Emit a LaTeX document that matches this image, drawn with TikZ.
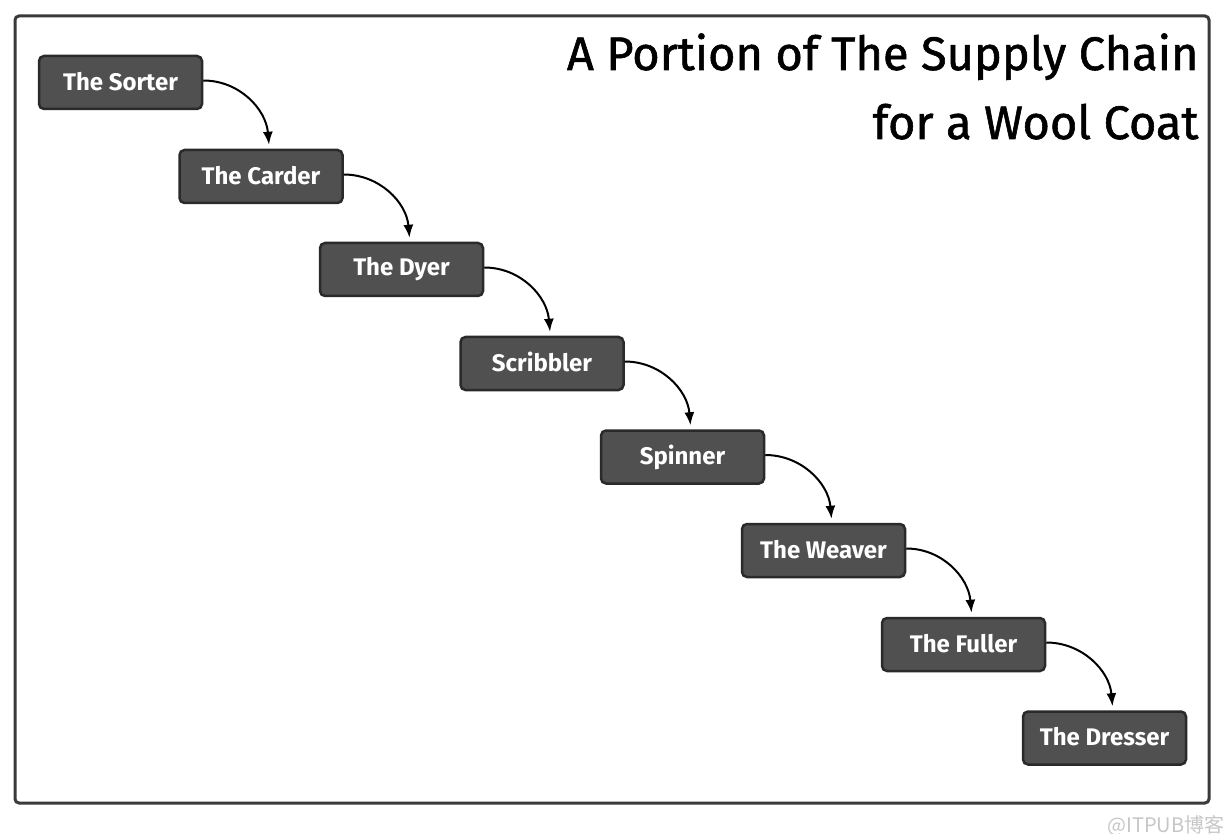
\documentclass[tikz,border=0pt]{standalone}
\usepackage{fontspec}
\setmainfont{Fira Sans}
\newfontfamily\titlefont[FakeBold=1.2]{Fira Sans}
\newfontfamily\cjk{Noto Sans CJK SC}
\usetikzlibrary{arrows.meta}
\definecolor{boxfill}{HTML}{505050}
\definecolor{boxline}{HTML}{2A2A2A}
\definecolor{framec}{HTML}{3A3A3A}
\tikzset{
  stepbox/.style={draw=boxline, line width=2.5pt, fill=boxfill, rounded corners=5pt,
    minimum width=163pt, minimum height=53pt, inner sep=0pt,
    text=white, font=\fontsize{24}{27}\selectfont\bfseries},
  flow/.style={-{Latex[length=13pt,width=10pt]}, line width=2pt, black},
  title/.style={anchor=base east, font=\fontsize{47}{52}\selectfont\titlefont},
}
\begin{document}
\begin{tikzpicture}[x=1pt,y=1pt]
\useasboundingbox (0,0) rectangle (1229,-834);
\fill[white] (0,0) rectangle (1229,-834);
\draw[framec, line width=3pt, rounded corners=4pt] (15,-16) rectangle (1209,-803);
\node[title] (t1) at (1202,-70) {A Portion of The Supply Chain};
\node[title] (t2) at (1202,-139) {for a Wool Coat};
\node[stepbox] (n1) at (120.5,-82.5) {\raisebox{3pt}{The Sorter}};
\node[stepbox] (n2) at (261,-176.5) {\raisebox{3pt}{The Carder}};
\node[stepbox] (n3) at (401.5,-269.5) {\raisebox{3pt}{The Dyer}};
\node[stepbox] (n4) at (542,-363.5) {\raisebox{3pt}{Scribbler}};
\node[stepbox] (n5) at (682.5,-457) {\raisebox{3pt}{Spinner}};
\node[stepbox] (n6) at (823.5,-550.5) {\raisebox{3pt}{The Weaver}};
\node[stepbox] (n7) at (963.5,-644.5) {\raisebox{3pt}{The Fuller}};
\node[stepbox] (n8) at (1104.5,-738) {\raisebox{3pt}{The Dresser}};
\foreach \a/\b in {n1/n2,n2/n3,n3/n4,n4/n5,n5/n6,n6/n7,n7/n8}{
  \draw[flow] ([yshift=2pt]\a.east) to[out=0,in=95] ([xshift=8pt,yshift=4pt]\b.north);
}
\node[anchor=base east, text=black!22, font=\fontsize{20}{22}\selectfont\cjk] (wm) at (1228,-832) {@ITPUB博客};
\end{tikzpicture}
\end{document}
